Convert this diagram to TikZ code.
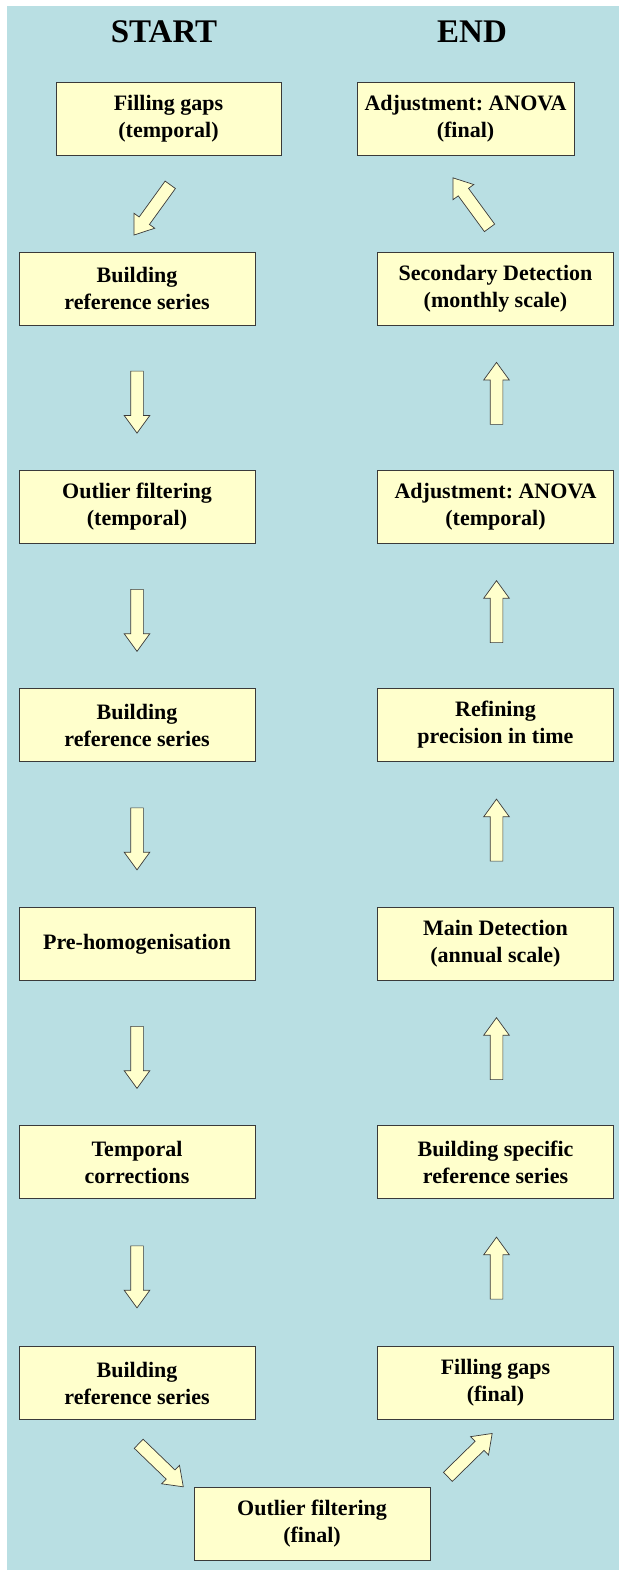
\documentclass[tikz,border=0pt]{standalone}
\usepackage{fontspec}
\setmainfont{Liberation Serif}
\frenchspacing
\usetikzlibrary{shapes.arrows}

\definecolor{bgblue}{HTML}{B9DFE3}
\definecolor{boxyellow}{HTML}{FFFFCC}
\definecolor{edgegray}{HTML}{3A3A3A}

\tikzset{
  box/.style={draw=edgegray, line width=0.8pt, fill=boxyellow, align=center,
    minimum width=236pt, minimum height=73pt, inner sep=2pt,
    font=\fontsize{22}{27}\selectfont\bfseries},
  hdr/.style={anchor=base, font=\fontsize{33}{38}\selectfont\bfseries},
  barrow/.style={single arrow, draw=edgegray, line width=0.7pt, fill=boxyellow,
    inner xsep=0pt, inner ysep=6pt, minimum height=62pt,
    single arrow head extend=6.5pt, single arrow tip angle=72,
    sloped, allow upside down}
}

\begin{document}
\begin{tikzpicture}[x=1pt, y=-1pt]
            \useasboundingbox (0,0) rectangle (620,1570);
            \fill[bgblue] (7,6) rectangle (619,1570);

            % Kopfzeile
            \node[hdr] (start) at (164,43) {START};
            \node[hdr] (end) at (472,43) {END};

            % linke Spalte
            \node[box, minimum width=225pt] (gapsT) at (168.5,118.5) {Filling gaps\\ (temporal)};
            \node[box] (refA) at (137,288.5) {Building\\reference series};
            \node[box] (outT) at (137,507) {Outlier filtering\\(temporal)};
            \node[box] (refB) at (137,725) {Building\\reference series};
            \node[box] (prehom) at (137,944) {Pre-homogenisation};
            \node[box] (tcorr) at (137,1162) {Temporal\\corrections};
            \node[box] (refC) at (137,1383) {Building\\reference series};
            \node[box] (outF) at (312,1524) {Outlier filtering\\(final)};

            % rechte Spalte
            \node[box] (gapsF) at (495.5,1383) {Filling gaps\\ (final)};
            \node[box] (refS) at (495.5,1162) {Building specific\\reference series};
            \node[box] (mainD) at (495.5,944) {Main Detection\\(annual scale)};
            \node[box] (refine) at (495.5,725) {Refining\\precision in time};
            \node[box] (anovaT) at (495.5,507) {Adjustment: ANOVA\\(temporal)};
            \node[box] (secD) at (495.5,288.5) {Secondary Detection\\(monthly scale)};
            \node[box, minimum width=217pt] (anovaF) at (465.5,118.5) {Adjustment: ANOVA\\(final)};

            % Pfeile
            \path ([xshift=23pt]gapsT.south) -- node[barrow, pos=.53] {} ([xshift=-15pt]refA.north);
            \path (refA) -- node[barrow] {} (outT);
            \path (outT) -- node[barrow] {} (refB);
            \path (refB) -- node[barrow] {} (prehom);
            \path (prehom) -- node[barrow] {} (tcorr);
            \path (tcorr) -- node[barrow] {} (refC);
            \path ([xshift=-23pt]refC.south) -- node[barrow, pos=.63] {} ([xshift=-10pt]outF.north west);
            \path ([xshift=7pt]outF.north east) -- node[barrow, pos=.43] {} ([xshift=10.5pt]gapsF.south);
            \path ([xshift=1pt]gapsF.north) -- node[barrow] {} ([xshift=1pt]refS.south);
            \path ([xshift=1pt]refS.north) -- node[barrow] {} ([xshift=1pt]mainD.south);
            \path ([xshift=1pt]mainD.north) -- node[barrow] {} ([xshift=1pt]refine.south);
            \path ([xshift=1pt]refine.north) -- node[barrow] {} ([xshift=1pt]anovaT.south);
            \path ([xshift=1pt]anovaT.north) -- node[barrow] {} ([xshift=1pt]secD.south);
            \path ([xshift=11.4pt]secD.north) -- node[barrow, pos=.47] {} ([xshift=-29pt]anovaF.south);
        \end{tikzpicture}
\end{document}
